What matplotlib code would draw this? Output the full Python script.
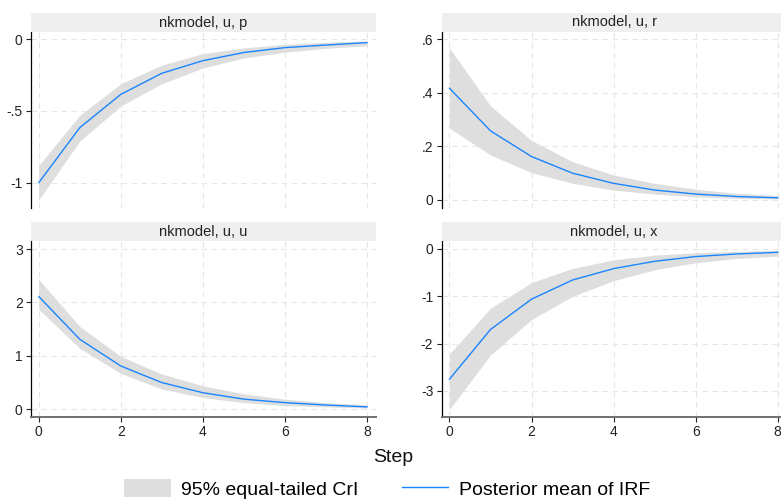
import matplotlib
matplotlib.use("Agg")
import matplotlib.pyplot as plt
from matplotlib.patches import Patch
from matplotlib.lines import Line2D

plt.rcParams['font.family'] = ['Liberation Sans', 'DejaVu Sans']

# IRF data
steps = [0, 1, 2, 3, 4, 5, 6, 7, 8]

p_mean = [-1.0, -0.616, -0.384, -0.237, -0.149, -0.092, -0.058, -0.04, -0.023]
p_upper = [-0.88, -0.53, -0.31, -0.18, -0.10, -0.06, -0.035, -0.02, -0.012]
p_lower = [-1.12, -0.71, -0.465, -0.31, -0.20, -0.13, -0.09, -0.063, -0.044]

r_mean = [0.417, 0.258, 0.162, 0.10, 0.062, 0.037, 0.022, 0.013, 0.008]
r_upper = [0.567, 0.351, 0.222, 0.143, 0.093, 0.062, 0.04, 0.025, 0.017]
r_lower = [0.268, 0.168, 0.102, 0.062, 0.037, 0.022, 0.012, 0.006, 0.004]

u_mean = [2.11, 1.31, 0.81, 0.50, 0.31, 0.19, 0.125, 0.08, 0.045]
u_upper = [2.43, 1.55, 0.99, 0.66, 0.44, 0.29, 0.19, 0.125, 0.085]
u_lower = [1.87, 1.14, 0.67, 0.38, 0.22, 0.125, 0.07, 0.045, 0.025]

x_mean = [-2.75, -1.70, -1.06, -0.655, -0.415, -0.26, -0.16, -0.105, -0.07]
x_upper = [-2.22, -1.25, -0.71, -0.41, -0.23, -0.13, -0.08, -0.05, -0.03]
x_lower = [-3.39, -2.24, -1.49, -1.0, -0.67, -0.44, -0.29, -0.2, -0.15]

titles = ["nkmodel, u, p", "nkmodel, u, r", "nkmodel, u, u", "nkmodel, u, x"]
yticks = [[0, -0.5, -1], [0, 0.2, 0.4, 0.6], [0, 1, 2, 3], [0, -1, -2, -3]]
yticklabels = [["0", "-.5", "-1"], ["0", ".2", ".4", ".6"],
               ["0", "1", "2", "3"], ["0", "-1", "-2", "-3"]]
ylims = [(-1.177, 0.051), (-0.030, 0.627), (-0.144, 3.15), (-3.55, 0.169)]

W, H = 781, 501
band_color = '#dedede'
line_color = '#1a85ff'

fig = plt.figure(figsize=(W / 100, H / 100), dpi=100)

# panel boxes in pixels: left, top, right, bottom
boxes = [(31, 32, 376, 208), (441.7, 32, 786.7, 208),
         (31, 241, 376, 417), (441.7, 241, 786.7, 417)]
strip_h = 19

series = [(p_mean, p_lower, p_upper), (r_mean, r_lower, r_upper),
          (u_mean, u_lower, u_upper), (x_mean, x_lower, x_upper)]

for i, (l, t, r, b) in enumerate(boxes):
    ax = fig.add_axes([l / W, 1 - b / H, (r - l) / W, (b - t) / H])
    mean, lo, hi = series[i]
    ax.fill_between(steps, lo, hi, color=band_color, linewidth=0, zorder=2)
    ax.plot(steps, mean, color=line_color, linewidth=1.0, zorder=3)
    ax.set_xlim(-0.19, 8.22)
    ax.set_ylim(*ylims[i])
    ax.set_xticks([0, 2, 4, 6, 8])
    ax.set_yticks(yticks[i])
    ax.set_yticklabels(yticklabels[i])
    ax.grid(True, color='#e6e6e6', linestyle=(0, (5, 4)), linewidth=0.8, zorder=0)
    ax.set_axisbelow(True)
    for s in ['top', 'right']:
        ax.spines[s].set_visible(False)
    ax.spines['left'].set_color('black')
    ax.spines['left'].set_linewidth(0.9)
    ax.tick_params(axis='y', length=3.5, width=0.8, pad=2.5, labelsize=10, colors='#222222')
    if i < 2:
        ax.spines['bottom'].set_visible(False)
        ax.tick_params(axis='x', length=0, labelbottom=False)
    else:
        ax.spines['bottom'].set_color('#707070')
        ax.spines['bottom'].set_linewidth(1.4)
        ax.tick_params(axis='x', length=3.5, width=0.8, pad=2, labelsize=10, colors='#222222')

    # strip header
    sax = fig.add_axes([l / W, 1 - t / H, (r - l) / W, strip_h / H])
    sax.set_facecolor('#efefef')
    sax.set_xticks([])
    sax.set_yticks([])
    for s in sax.spines.values():
        s.set_visible(False)
    sax.text(0.5, 0.5, titles[i], ha='center', va='center', fontsize=10.5,
             color='#222222', transform=sax.transAxes)

fig.text(393 / W, 1 - 462 / H, "Step", ha='center', va='baseline', fontsize=14, color='#111111')

handles = [Patch(facecolor=band_color, edgecolor='none'),
           Line2D([], [], color=line_color, linewidth=1.0)]
fig.legend(handles, ["95% equal-tailed CrI", "Posterior mean of IRF"],
           loc='upper left', bbox_to_anchor=(124 / W, 1 - 479 / H),
           ncol=2, frameon=False, fontsize=14, borderpad=0, borderaxespad=0,
           handlelength=2.4, handleheight=1.05, handletextpad=0.55,
           columnspacing=2.2)

fig.savefig("out.png", dpi=100)
